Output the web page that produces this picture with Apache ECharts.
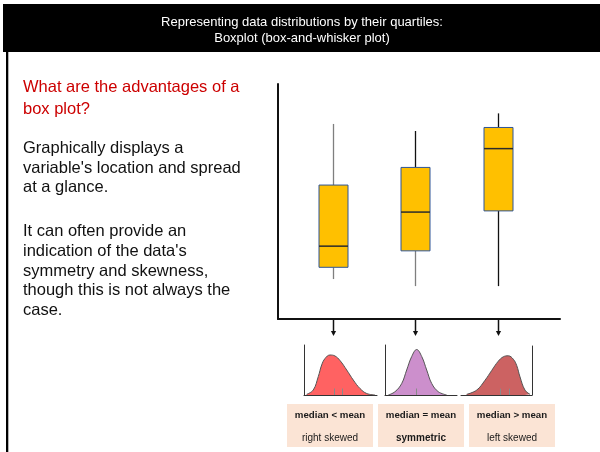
<!DOCTYPE html>
<html>
<head>
<meta charset="utf-8">
<script src="https://cdn.jsdelivr.net/npm/echarts@6/dist/echarts.min.js"></script>
<style>
  html, body { margin: 0; padding: 0; background: #fff; }
  #main { width: 600px; height: 452px; }
</style>
</head>
<body>
<div id="main"></div>
<script>
// Three example groups, placed at x = 1, 2, 3 on the box plot
const groupPos = [1, 2, 3];
// low whisker, Q1, median, Q3, high whisker
const boxStats = [
  [1.7, 2.2, 3.1, 5.7, 8.3],
  [1.4, 2.9, 4.55, 6.45, 8.0],
  [1.4, 4.6, 7.25, 8.15, 8.75]
];

// Density curves below the box plot: [x, density]
const curveRight = [
  [0.37, 0.014], [1.27, 0.10], [1.96, 0.37], [2.42, 0.60], [2.88, 0.73],
  [3.56, 0.80], [4.25, 0.78], [4.93, 0.69], [5.85, 0.50], [6.75, 0.30],
  [7.67, 0.13], [8.59, 0.03], [9.73, 0]
];
const curveSymmetric = [
  [0.46, 0], [1.39, 0.066], [2.32, 0.23], [3.01, 0.50], [3.71, 0.77],
  [4.40, 0.91], [5.10, 0.77], [5.79, 0.50], [6.49, 0.23], [7.40, 0.066],
  [8.57, 0]
];
const curveLeft = [
  [0.80, 0.014], [2.21, 0.10], [3.38, 0.30], [4.32, 0.50], [5.25, 0.69],
  [5.96, 0.78], [6.66, 0.80], [7.37, 0.73], [7.85, 0.60], [8.31, 0.37],
  [9.01, 0.10], [9.72, 0.014]
];
// median and mean positions on each curve
const centreRight = [4.1, 5.3];
const centreSymmetric = [4.4];
const centreLeft = [5.49, 6.76];

const captions = ['median < mean', 'median = mean', 'median > mean'];
const shapes = ['right skewed', 'symmetric', 'left skewed'];

const headerLines = [
  'Representing data distributions by their quartiles:',
  'Boxplot (box-and-whisker plot)'
];
const question = 'What are the advantages of a\nbox plot?';
const paragraphOne = 'Graphically displays a\nvariable\'s location and spread\nat a glance.';
const paragraphTwo = 'It can often provide an\nindication of the data\'s\nsymmetry and skewness,\nthough this is not always the\ncase.';

// whisker colours: [upper, lower] per box
const whiskerColors = [['#7f7f7f', '#7f7f7f'], ['#111', '#7f7f7f'], ['#111', '#111']];

const FONT = '"Liberation Sans", Arial, Helvetica, sans-serif';

const chart = echarts.init(document.getElementById('main'), null, { renderer: 'canvas' });

function miniAxisX(gridIndex) {
  return {
    type: 'value', gridIndex, min: 0, max: 10,
    axisLine: { show: true, onZero: false, lineStyle: { color: '#333', width: 1 } },
    axisTick: { show: false }, axisLabel: { show: false }, splitLine: { show: false }
  };
}
function miniAxisY(gridIndex, position) {
  return {
    type: 'value', gridIndex, min: 0, max: 1, position,
    axisLine: { show: true, onZero: false, lineStyle: { color: '#333', width: 1 } },
    axisTick: { show: false }, axisLabel: { show: false }, splitLine: { show: false }
  };
}
function curveSeries(idx, data, fill, centres) {
  return {
    type: 'line', xAxisIndex: idx, yAxisIndex: idx, data,
    smooth: 0.4, symbol: 'none',
    lineStyle: { color: '#555', width: 1 },
    areaStyle: { color: fill, opacity: 1 },
    markLine: {
      silent: true, symbol: 'none', animation: false,
      label: { show: false },
      lineStyle: { color: '#8a8a8a', width: 1, type: 'solid' },
      data: centres.map(c => [{ coord: [c, 0] }, { coord: [c, 0.13] }])
    },
    z: 3
  };
}

const labelBoxes = [];
const boxLeft = [287, 378, 469];
captions.forEach((c, i) => {
  const cx = boxLeft[i] + 43;
  labelBoxes.push({
    type: 'rect', shape: { x: boxLeft[i], y: 404, width: 86, height: 43 },
    style: { fill: '#fbe4d5' }
  });
  labelBoxes.push({
    type: 'text', x: cx, y: 415,
    style: { text: c, fill: '#1a1a1a', fontSize: 9.7, fontWeight: 'bold', fontFamily: FONT, align: 'center', verticalAlign: 'middle' }
  });
  labelBoxes.push({
    type: 'text', x: cx, y: 438.5,
    style: { text: shapes[i], fill: '#1a1a1a', fontSize: 10, fontWeight: i === 1 ? 'bold' : 'normal', fontFamily: FONT, align: 'center', verticalAlign: 'middle' }
  });
});

const option = {
  animation: false,
  backgroundColor: '#fff',
  grid: [
    { left: 278, top: 84, right: 40, bottom: 133 },
    { left: 304, top: 345, width: 73, height: 50 },
    { left: 385, top: 345, width: 72, height: 50 },
    { left: 461, top: 346, width: 71, height: 49 }
  ],
  xAxis: [
    {
      type: 'value', gridIndex: 0, min: 0.33, max: 3.76,
      axisLine: { show: true, onZero: false, lineStyle: { color: '#111', width: 2 } },
      axisTick: { show: false }, axisLabel: { show: false }, splitLine: { show: false }
    },
    miniAxisX(1), miniAxisX(2), miniAxisX(3)
  ],
  yAxis: [
    {
      type: 'value', gridIndex: 0, min: 0, max: 10,
      axisLine: { show: true, onZero: false, lineStyle: { color: '#111', width: 2 } },
      axisTick: { show: false }, axisLabel: { show: false }, splitLine: { show: false }
    },
    miniAxisY(1, 'left'), miniAxisY(2, 'left'), miniAxisY(3, 'right')
  ],
  series: [
    {
      type: 'custom',
      xAxisIndex: 0, yAxisIndex: 0,
      data: boxStats.map((s, i) => [groupPos[i]].concat(s)),
      encode: { x: 0, y: [1, 2, 3, 4, 5] },
      clip: false,
      renderItem(params, api) {
        const x = api.value(0);
        const lo = api.coord([x, api.value(1)]);
        const q1 = api.coord([x, api.value(2)]);
        const med = api.coord([x, api.value(3)]);
        const q3 = api.coord([x, api.value(4)]);
        const hi = api.coord([x, api.value(5)]);
        const base = api.coord([x, 0]);
        const cx = Math.round(lo[0]) + 0.5;
        const halfW = 14.5;
        const wc = whiskerColors[params.dataIndex];
        return {
          type: 'group',
          children: [
            { type: 'line', shape: { x1: cx, y1: hi[1], x2: cx, y2: q3[1] }, style: { stroke: wc[0], lineWidth: 1.3 } },
            { type: 'line', shape: { x1: cx, y1: q1[1], x2: cx, y2: lo[1] }, style: { stroke: wc[1], lineWidth: 1.3 } },
            { type: 'rect', shape: { x: cx - halfW, y: q3[1], width: halfW * 2, height: q1[1] - q3[1] },
              style: { fill: '#ffc000', stroke: '#2f5597', lineWidth: 1 } },
            { type: 'line', shape: { x1: cx - halfW, y1: med[1], x2: cx + halfW, y2: med[1] },
              style: { stroke: '#2b2b2b', lineWidth: 1.5 } },
            // arrow pointing down to the matching distribution
            { type: 'line', shape: { x1: cx, y1: base[1] + 1, x2: cx, y2: base[1] + 13 },
              style: { stroke: '#111', lineWidth: 1.5 } },
            { type: 'polygon', shape: { points: [[cx - 2.6, base[1] + 12], [cx + 2.6, base[1] + 12], [cx, base[1] + 17]] },
              style: { fill: '#111' } }
          ]
        };
      },
      z: 4
    },
    curveSeries(1, curveRight, '#ff6262', centreRight),
    curveSeries(2, curveSymmetric, '#cc8fcc', centreSymmetric),
    curveSeries(3, curveLeft, '#cc6262', centreLeft)
  ],
  graphic: [
    { type: 'rect', shape: { x: 3, y: 4, width: 597, height: 48 }, style: { fill: '#000' }, z: 1 },
    { type: 'text', x: 302, y: 22, z: 2,
      style: { text: headerLines[0], fill: '#fff', fontSize: 13, fontFamily: FONT, align: 'center', verticalAlign: 'middle' } },
    { type: 'text', x: 302, y: 38, z: 2,
      style: { text: headerLines[1], fill: '#fff', fontSize: 13, fontFamily: FONT, align: 'center', verticalAlign: 'middle' } },
    { type: 'rect', shape: { x: 6, y: 52, width: 2.3, height: 400 }, style: { fill: '#000' } },
    { type: 'text', x: 23, y: 76.5,
      style: { text: question, fill: '#cc0000', fontSize: 16.5, lineHeight: 22, fontFamily: FONT, align: 'left', verticalAlign: 'top' } },
    { type: 'text', x: 23, y: 138.8,
      style: { text: paragraphOne, fill: '#111', fontSize: 16.5, lineHeight: 19.6, fontFamily: FONT, align: 'left', verticalAlign: 'top' } },
    { type: 'text', x: 23, y: 221.6,
      style: { text: paragraphTwo, fill: '#111', fontSize: 16.5, lineHeight: 19.8, fontFamily: FONT, align: 'left', verticalAlign: 'top' } }
  ].concat(labelBoxes)
};

chart.setOption(option);
</script>
</body>
</html>
